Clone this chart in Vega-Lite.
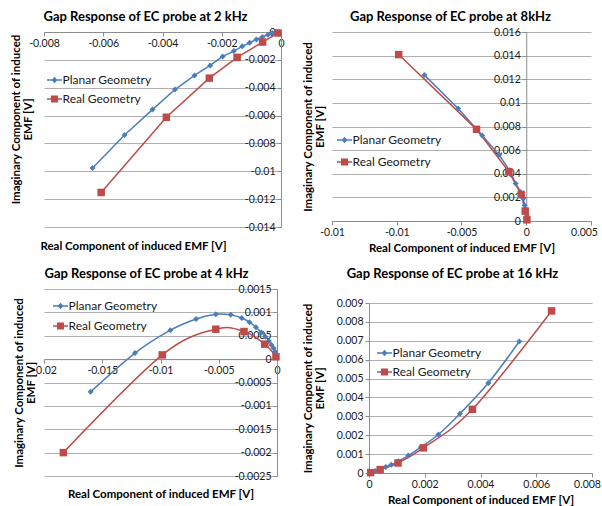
{
  "$schema": "https://vega.github.io/schema/vega-lite/v6.json",
  "padding": {"left": 10, "top": 11, "right": 0, "bottom": 0},
  "columns": 2,
  "align": "none",
  "spacing": {"row": 14, "column": 17},
  "resolve": {"scale": {"color": "independent"}, "legend": {"color": "independent"}},
  "concat": [
    {
      "width": 237, "height": 195,
      "title": {"text": "Gap Response of EC probe at 2 kHz", "offset": 3, "frame": "group", "dx": -17},
      "data": {"values": [
        {"series": "Planar Geometry", "x": -0.00636, "y": -0.00977},
        {"series": "Planar Geometry", "x": -0.00528, "y": -0.0074},
        {"series": "Planar Geometry", "x": -0.00434, "y": -0.00557},
        {"series": "Planar Geometry", "x": -0.00358, "y": -0.00413},
        {"series": "Planar Geometry", "x": -0.00292, "y": -0.00312},
        {"series": "Planar Geometry", "x": -0.00239, "y": -0.0024},
        {"series": "Planar Geometry", "x": -0.00197, "y": -0.00175},
        {"series": "Planar Geometry", "x": -0.00159, "y": -0.00137},
        {"series": "Planar Geometry", "x": -0.00131, "y": -0.00103},
        {"series": "Planar Geometry", "x": -0.00106, "y": -0.00077},
        {"series": "Planar Geometry", "x": -0.00083, "y": -0.00053},
        {"series": "Planar Geometry", "x": -0.00063, "y": -0.00036},
        {"series": "Planar Geometry", "x": -0.00044, "y": -0.00019},
        {"series": "Planar Geometry", "x": -0.00029, "y": -0.00007},
        {"series": "Planar Geometry", "x": -0.00017, "y": 0},
        {"series": "Real Geometry", "x": -0.00607, "y": -0.01152},
        {"series": "Real Geometry", "x": -0.00387, "y": -0.00612},
        {"series": "Real Geometry", "x": -0.00242, "y": -0.00331},
        {"series": "Real Geometry", "x": -0.00148, "y": -0.00182},
        {"series": "Real Geometry", "x": -0.00062, "y": -0.00072},
        {"series": "Real Geometry", "x": -0.0001, "y": -0.00007}
      ]},
      "layer": [
        {
          "mark": {"type": "line", "strokeWidth": 1.5, "interpolate": "linear"},
          "encoding": {
            "x": {"field": "x", "type": "quantitative", "scale": {"domain": [-0.008, 0], "nice": false, "zero": false},
                  "axis": {"orient": "bottom", "offset": -195, "values": [-0.008, -0.006, -0.004, -0.002, 0], "format": "~g", "title": null, "grid": false}},
            "y": {"field": "y", "type": "quantitative", "scale": {"domain": [-0.014, 0], "nice": false, "zero": false},
                  "axis": {"orient": "left", "offset": -237, "values": [-0.014, -0.012, -0.01, -0.008, -0.006, -0.004, -0.002, 0], "format": "~g", "title": null, "grid": false}},
            "color": {"field": "series", "type": "nominal", "scale": {"domain": ["Planar Geometry", "Real Geometry"], "range": ["#4A7EBB", "#BE4B48"]},
                      "legend": {"orient": "none", "legendX": 4.5, "legendY": 42, "rowPadding": 7,
                        "encode": {"symbols": {"update": {
                          "shape": {"signal": "datum.value == 'Planar Geometry' ? 'M-1.5,-0.15L1.5,-0.15L1.5,0.15L-1.5,0.15ZM0,-0.65L0.6,0L0,0.65L-0.6,0Z' : 'M-1.5,-0.15L1.5,-0.15L1.5,0.15L-1.5,0.15ZM-0.7,-0.7L0.7,-0.7L0.7,0.7L-0.7,0.7Z'"},
                          "fill": {"signal": "datum.value == 'Planar Geometry' ? '#4A7EBB' : '#BE4B48'"},
                          "strokeWidth": {"value": 0}}}}}}
          }
        },
        {
          "mark": {"type": "point", "filled": true, "opacity": 1,
                   "shape": {"expr": "datum.series == 'Planar Geometry' ? 'diamond' : 'square'"},
                   "size": {"expr": "datum.series == 'Planar Geometry' ? 36 : 56"}},
          "encoding": {
            "x": {"field": "x", "type": "quantitative", "axis": {"orient": "bottom", "labels": false, "ticks": false, "domain": false, "grid": false, "title": "Real Component of induced EMF [V]", "titlePadding": 13, "minExtent": 0, "maxExtent": 0, "titleX": 89}},
            "y": {"field": "y", "type": "quantitative", "axis": {"orient": "left", "labels": false, "ticks": false, "domain": false, "grid": true, "values": [-0.014, -0.012, -0.01, -0.008, -0.006, -0.004, -0.002, 0], "title": ["Imaginary  Component of induced", "EMF [V]"], "titlePadding": 11, "minExtent": 0, "maxExtent": 0, "titleY": 87}},
            "color": {"field": "series", "type": "nominal", "scale": {"domain": ["Planar Geometry", "Real Geometry"], "range": ["#4A7EBB", "#BE4B48"]},
                      "legend": {"orient": "none", "legendX": 4.5, "legendY": 42, "rowPadding": 7,
                        "encode": {"symbols": {"update": {
                          "shape": {"signal": "datum.value == 'Planar Geometry' ? 'M-1.5,-0.15L1.5,-0.15L1.5,0.15L-1.5,0.15ZM0,-0.65L0.6,0L0,0.65L-0.6,0Z' : 'M-1.5,-0.15L1.5,-0.15L1.5,0.15L-1.5,0.15ZM-0.7,-0.7L0.7,-0.7L0.7,0.7L-0.7,0.7Z'"},
                          "fill": {"signal": "datum.value == 'Planar Geometry' ? '#4A7EBB' : '#BE4B48'"},
                          "strokeWidth": {"value": 0}}}}}}
          }
        }
      ],
      "resolve": {"axis": {"x": "independent", "y": "independent"}}
    },
    {
      "width": 259, "height": 189,
      "title": {"text": "Gap Response of EC probe at 8kHz", "offset": 3, "frame": "group", "dx": -11},
      "data": {"values": [
        {"series": "Planar Geometry", "x": -0.00786, "y": 0.01235},
        {"series": "Planar Geometry", "x": -0.00526, "y": 0.00952},
        {"series": "Planar Geometry", "x": -0.0034, "y": 0.00723},
        {"series": "Planar Geometry", "x": -0.00209, "y": 0.0056},
        {"series": "Planar Geometry", "x": -0.00129, "y": 0.00429},
        {"series": "Planar Geometry", "x": -0.00082, "y": 0.00317},
        {"series": "Planar Geometry", "x": -0.00044, "y": 0.00246},
        {"series": "Planar Geometry", "x": -0.00023, "y": 0.0019},
        {"series": "Planar Geometry", "x": -0.00013, "y": 0.00134},
        {"series": "Planar Geometry", "x": 0.0, "y": 0.00092},
        {"series": "Planar Geometry", "x": 0.00005, "y": 0.0005},
        {"series": "Planar Geometry", "x": 0.0001, "y": 0.0001},
        {"series": "Real Geometry", "x": -0.00985, "y": 0.01409},
        {"series": "Real Geometry", "x": -0.00384, "y": 0.00776},
        {"series": "Real Geometry", "x": -0.00134, "y": 0.00417},
        {"series": "Real Geometry", "x": -0.00039, "y": 0.00224},
        {"series": "Real Geometry", "x": -0.00008, "y": 0.00084},
        {"series": "Real Geometry", "x": 0.00005, "y": 0.0001}
      ]},
      "encoding": {
        "x": {"field": "x", "type": "quantitative", "scale": {"domain": [-0.015, 0.005], "nice": false, "zero": false},
              "axis": {"orient": "bottom", "values": [-0.015, -0.01, -0.005, 0, 0.005], "format": "~g", "title": "Real Component of induced EMF [V]", "titlePadding": 5, "grid": false,
                       "labelOffset": {"condition": {"test": "datum.value > 0.004", "value": -7}, "value": 0}}},
        "color": {"field": "series", "type": "nominal", "scale": {"domain": ["Planar Geometry", "Real Geometry"], "range": ["#4A7EBB", "#BE4B48"]},
                  "legend": {"orient": "none", "legendX": 6.5, "legendY": 102, "rowPadding": 10,
                    "encode": {"symbols": {"update": {
                      "shape": {"signal": "datum.value == 'Planar Geometry' ? 'M-1.5,-0.15L1.5,-0.15L1.5,0.15L-1.5,0.15ZM0,-0.65L0.6,0L0,0.65L-0.6,0Z' : 'M-1.5,-0.15L1.5,-0.15L1.5,0.15L-1.5,0.15ZM-0.7,-0.7L0.7,-0.7L0.7,0.7L-0.7,0.7Z'"},
                      "fill": {"signal": "datum.value == 'Planar Geometry' ? '#4A7EBB' : '#BE4B48'"},
                      "strokeWidth": {"value": 0}}}}}}
      },
      "layer": [
        {
          "mark": {"type": "line", "strokeWidth": 1.5, "interpolate": "linear"},
          "encoding": {
            "y": {"field": "y", "type": "quantitative", "scale": {"domain": [0, 0.016], "nice": false, "zero": false},
                  "axis": {"orient": "left", "offset": -194.25, "values": [0, 0.002, 0.004, 0.006, 0.008, 0.01, 0.012, 0.014, 0.016], "format": "~g", "title": null, "grid": false}}
          }
        },
        {
          "mark": {"type": "point", "filled": true, "opacity": 1,
                   "shape": {"expr": "datum.series == 'Planar Geometry' ? 'diamond' : 'square'"},
                   "size": {"expr": "datum.series == 'Planar Geometry' ? 36 : 56"}},
          "encoding": {
            "y": {"field": "y", "type": "quantitative", "axis": {"orient": "left", "labels": false, "ticks": false, "domain": false, "grid": true, "values": [0, 0.002, 0.004, 0.006, 0.008, 0.01, 0.012, 0.014, 0.016], "title": ["Imaginary  Component of induced", "EMF [V]"], "titlePadding": 7, "minExtent": 0, "maxExtent": 0}}
          }
        }
      ],
      "resolve": {"axis": {"y": "independent"}}
    },
    {
      "width": 233, "height": 187,
      "title": {"text": "Gap Response of EC probe at 4 kHz", "offset": 3, "frame": "group", "dx": -14},
      "data": {"values": [
        {"series": "Planar Geometry", "x": -0.016, "y": -0.0007},
        {"series": "Planar Geometry", "x": -0.01219, "y": 0.00013},
        {"series": "Planar Geometry", "x": -0.00915, "y": 0.00062},
        {"series": "Planar Geometry", "x": -0.00694, "y": 0.00086},
        {"series": "Planar Geometry", "x": -0.00525, "y": 0.00096},
        {"series": "Planar Geometry", "x": -0.00397, "y": 0.00095},
        {"series": "Planar Geometry", "x": -0.00303, "y": 0.00088},
        {"series": "Planar Geometry", "x": -0.00236, "y": 0.00079},
        {"series": "Planar Geometry", "x": -0.00181, "y": 0.00068},
        {"series": "Planar Geometry", "x": -0.00134, "y": 0.00057},
        {"series": "Planar Geometry", "x": -0.00099, "y": 0.00048},
        {"series": "Planar Geometry", "x": -0.0007, "y": 0.00039},
        {"series": "Planar Geometry", "x": -0.00047, "y": 0.0003},
        {"series": "Planar Geometry", "x": -0.00029, "y": 0.00023},
        {"series": "Planar Geometry", "x": -0.00015, "y": 0.00016},
        {"series": "Real Geometry", "x": -0.01834, "y": -0.002},
        {"series": "Real Geometry", "x": -0.00985, "y": 0.00009},
        {"series": "Real Geometry", "x": -0.00525, "y": 0.00064},
        {"series": "Real Geometry", "x": -0.00283, "y": 0.00059},
        {"series": "Real Geometry", "x": -0.00105, "y": 0.00032},
        {"series": "Real Geometry", "x": -0.00009, "y": 0.00005}
      ]},
      "layer": [
        {
          "mark": {"type": "line", "strokeWidth": 1.5, "interpolate": "cardinal"},
          "encoding": {
            "x": {"field": "x", "type": "quantitative", "scale": {"domain": [-0.02, 0], "nice": false, "zero": false},
                  "axis": {"orient": "bottom", "offset": -116.875, "values": [-0.02, -0.015, -0.01, -0.005, 0], "format": "~g", "title": null, "grid": false}},
            "y": {"field": "y", "type": "quantitative", "scale": {"domain": [-0.0025, 0.0015], "nice": false, "zero": false},
                  "axis": {"orient": "left", "offset": -233, "values": [-0.0025, -0.002, -0.0015, -0.001, -0.0005, 0, 0.0005, 0.001, 0.0015], "format": "~g", "title": null, "grid": false}},
            "color": {"field": "series", "type": "nominal", "scale": {"domain": ["Planar Geometry", "Real Geometry"], "range": ["#4A7EBB", "#BE4B48"]},
                      "legend": {"orient": "none", "legendX": 10.5, "legendY": 11, "rowPadding": 8,
                        "encode": {"symbols": {"update": {
                          "shape": {"signal": "datum.value == 'Planar Geometry' ? 'M-1.5,-0.15L1.5,-0.15L1.5,0.15L-1.5,0.15ZM0,-0.65L0.6,0L0,0.65L-0.6,0Z' : 'M-1.5,-0.15L1.5,-0.15L1.5,0.15L-1.5,0.15ZM-0.7,-0.7L0.7,-0.7L0.7,0.7L-0.7,0.7Z'"},
                          "fill": {"signal": "datum.value == 'Planar Geometry' ? '#4A7EBB' : '#BE4B48'"},
                          "strokeWidth": {"value": 0}}}}}}
          }
        },
        {
          "mark": {"type": "point", "filled": true, "opacity": 1,
                   "shape": {"expr": "datum.series == 'Planar Geometry' ? 'diamond' : 'square'"},
                   "size": {"expr": "datum.series == 'Planar Geometry' ? 36 : 56"}},
          "encoding": {
            "x": {"field": "x", "type": "quantitative", "axis": {"orient": "bottom", "labels": false, "ticks": false, "domain": false, "grid": false, "title": "Real Component of induced EMF [V]", "titlePadding": 12, "minExtent": 0, "maxExtent": 0}},
            "y": {"field": "y", "type": "quantitative", "axis": {"orient": "left", "labels": false, "ticks": false, "domain": false, "grid": true, "values": [-0.0025, -0.002, -0.0015, -0.001, -0.0005, 0, 0.0005, 0.001, 0.0015], "title": ["Imaginary  Component of induced", "EMF [V]"], "titlePadding": 8, "minExtent": 0, "maxExtent": 0}},
            "color": {"field": "series", "type": "nominal", "scale": {"domain": ["Planar Geometry", "Real Geometry"], "range": ["#4A7EBB", "#BE4B48"]},
                      "legend": {"orient": "none", "legendX": 10.5, "legendY": 11, "rowPadding": 8,
                        "encode": {"symbols": {"update": {
                          "shape": {"signal": "datum.value == 'Planar Geometry' ? 'M-1.5,-0.15L1.5,-0.15L1.5,0.15L-1.5,0.15ZM0,-0.65L0.6,0L0,0.65L-0.6,0Z' : 'M-1.5,-0.15L1.5,-0.15L1.5,0.15L-1.5,0.15ZM-0.7,-0.7L0.7,-0.7L0.7,0.7L-0.7,0.7Z'"},
                          "fill": {"signal": "datum.value == 'Planar Geometry' ? '#4A7EBB' : '#BE4B48'"},
                          "strokeWidth": {"value": 0}}}}}}
          }
        }
      ],
      "resolve": {"axis": {"x": "independent", "y": "independent"}}
    },
    {
      "width": 223, "height": 170,
      "title": {"text": "Gap Response of EC probe at 16 kHz", "offset": 17, "frame": "group", "dx": -28},
      "data": {"values": [
        {"series": "Planar Geometry", "x": 0.00002, "y": 0},
        {"series": "Planar Geometry", "x": 0.0001, "y": 0.00005},
        {"series": "Planar Geometry", "x": 0.00022, "y": 0.00011},
        {"series": "Planar Geometry", "x": 0.0004, "y": 0.00021},
        {"series": "Planar Geometry", "x": 0.0006, "y": 0.00032},
        {"series": "Planar Geometry", "x": 0.0008, "y": 0.00044},
        {"series": "Planar Geometry", "x": 0.00105, "y": 0.00062},
        {"series": "Planar Geometry", "x": 0.00141, "y": 0.00092},
        {"series": "Planar Geometry", "x": 0.00186, "y": 0.00137},
        {"series": "Planar Geometry", "x": 0.00249, "y": 0.00204},
        {"series": "Planar Geometry", "x": 0.00326, "y": 0.00314},
        {"series": "Planar Geometry", "x": 0.00428, "y": 0.00476},
        {"series": "Planar Geometry", "x": 0.00539, "y": 0.00696},
        {"series": "Real Geometry", "x": 0.00006, "y": 0.00002},
        {"series": "Real Geometry", "x": 0.0004, "y": 0.00018},
        {"series": "Real Geometry", "x": 0.00104, "y": 0.00053},
        {"series": "Real Geometry", "x": 0.00195, "y": 0.00133},
        {"series": "Real Geometry", "x": 0.00371, "y": 0.00337},
        {"series": "Real Geometry", "x": 0.00655, "y": 0.00858}
      ]},
      "encoding": {
        "x": {"field": "x", "type": "quantitative", "scale": {"domain": [0, 0.008], "nice": false, "zero": false},
              "axis": {"orient": "bottom", "values": [0, 0.002, 0.004, 0.006, 0.008], "format": "~g", "title": "Real Component of induced EMF [V]", "titlePadding": 5, "grid": false,
                       "labelOffset": {"condition": {"test": "datum.value > 0.007", "value": -5}, "value": 0}}},
        "y": {"field": "y", "type": "quantitative", "scale": {"domain": [0, 0.009], "nice": false, "zero": false},
              "axis": {"orient": "left", "values": [0, 0.001, 0.002, 0.003, 0.004, 0.005, 0.006, 0.007, 0.008, 0.009], "format": "~g", "title": ["Imaginary  Component of induced", "EMF [V]"], "titlePadding": 11, "grid": true}},
        "color": {"field": "series", "type": "nominal", "scale": {"domain": ["Planar Geometry", "Real Geometry"], "range": ["#4A7EBB", "#BE4B48"]},
                  "legend": {"orient": "none", "legendX": 9.5, "legendY": 44, "rowPadding": 7,
                    "encode": {"symbols": {"update": {
                      "shape": {"signal": "datum.value == 'Planar Geometry' ? 'M-1.5,-0.15L1.5,-0.15L1.5,0.15L-1.5,0.15ZM0,-0.65L0.6,0L0,0.65L-0.6,0Z' : 'M-1.5,-0.15L1.5,-0.15L1.5,0.15L-1.5,0.15ZM-0.7,-0.7L0.7,-0.7L0.7,0.7L-0.7,0.7Z'"},
                      "fill": {"signal": "datum.value == 'Planar Geometry' ? '#4A7EBB' : '#BE4B48'"},
                      "strokeWidth": {"value": 0}}}}}}
      },
      "layer": [
        {"mark": {"type": "line", "strokeWidth": 1.5, "interpolate": "cardinal"}},
        {
          "mark": {"type": "point", "filled": true, "opacity": 1,
                   "shape": {"expr": "datum.series == 'Planar Geometry' ? 'diamond' : 'square'"},
                   "size": {"expr": "datum.series == 'Planar Geometry' ? 36 : 56"}}
        }
      ]
    }
  ],
  "config": {
    "font": "Lato",
    "locale": {"number": {"decimal": ".", "thousands": ",", "grouping": [3], "currency": ["$", ""], "minus": "-"}},
    "view": {"stroke": null},
    "title": {"font": "Lato", "fontSize": 13, "fontWeight": "bold", "color": "#000000", "anchor": "middle"},
    "axis": {
      "labelFont": "Lato", "labelFontSize": 10.5, "labelColor": "#1a1a1a", "labelOverlap": false, "labelFlush": false, "labelPadding": 2,
      "titleFont": "Lato", "titleFontSize": 11.5, "titleFontWeight": "bold", "titleColor": "#000000", "titleLineHeight": 12,
      "domainColor": "#8c8c8c", "tickColor": "#8c8c8c", "tickSize": 4, "gridColor": "#b0b0b0", "gridWidth": 1
    },
    "legend": {
      "title": null, "padding": 0, "labelFont": "Lato", "labelFontSize": 12, "labelColor": "#1a1a1a", "labelOffset": 2,
      "symbolSize": 100, "symbolStrokeWidth": 0
    }
  }
}
